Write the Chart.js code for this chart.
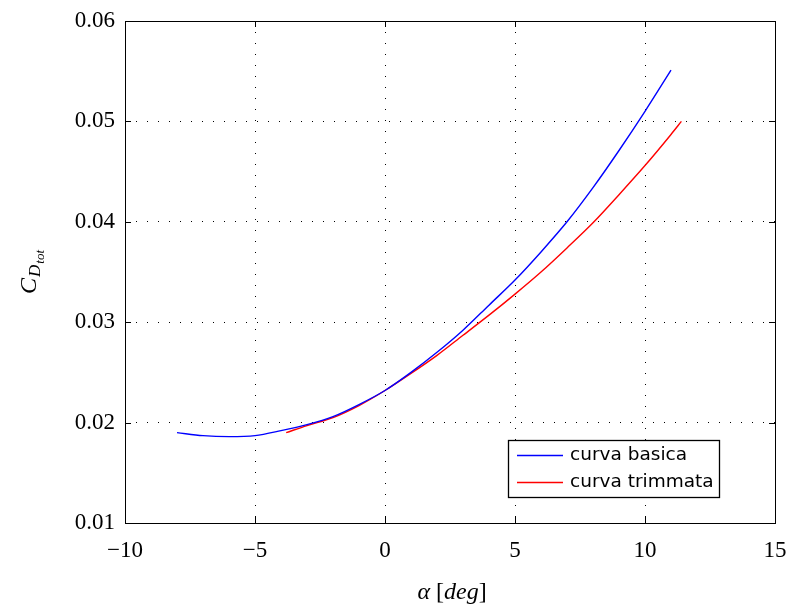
<!DOCTYPE html>
<html>
<head>
<meta charset="utf-8">
<script src="https://cdn.jsdelivr.net/npm/chart.js@4"></script>
<style>
  html, body { margin: 0; padding: 0; background: #fff; }
  #wrap { width: 788px; height: 605px; }
</style>
</head>
<body>
<div id="wrap"><canvas id="myChart" width="788" height="605"></canvas></div>
<script>
// angle of attack [deg] and drag coefficient
const alphaBasica = [-8, -7, -6, -5, -4, -3, -2, -1, 0, 1, 2, 3, 4, 5, 6, 7, 8, 9, 10, 11];
const cdBasica = [0.0190, 0.0187, 0.0186, 0.0187, 0.0192, 0.0198, 0.0206, 0.0218, 0.0232, 0.0250,
                  0.0270, 0.0292, 0.0317, 0.0342, 0.0370, 0.0400, 0.0434, 0.0471, 0.0510, 0.0551];

const alphaTrim = [-3.8, -3, -2, -1, 0, 1, 2, 3, 4, 5, 6, 7, 8, 9, 10, 11, 11.4];
const cdTrim = [0.0190, 0.0197, 0.0205, 0.0217, 0.0232, 0.0249, 0.0267, 0.0287, 0.0307, 0.0328,
                0.0350, 0.0374, 0.0399, 0.0427, 0.0456, 0.0487, 0.0500];

const seriesNames = ["curva basica", "curva trimmata"];
const xTicks = [-10, -5, 0, 5, 10, 15];
const yTicks = [0.01, 0.02, 0.03, 0.04, 0.05, 0.06];

const serif = "'Liberation Serif', 'DejaVu Serif', serif";

function toPoints(xs, ys) {
    return xs.map((x, i) => ({ x: x, y: ys[i] }));
}

// inward ticks on all four sides, like the original box
const innerTicks = {
    id: "innerTicks",
    afterDraw(chart) {
        const ctx = chart.ctx;
        const a = chart.chartArea;
        const xs = chart.scales.x, ys = chart.scales.y;
        const len = 6;
        ctx.save();
        ctx.strokeStyle = "#000";
        ctx.lineWidth = 1;
        ctx.beginPath();
        xTicks.forEach(v => {
            const px = Math.round(xs.getPixelForValue(v)) + 0.5;
            ctx.moveTo(px, a.bottom); ctx.lineTo(px, a.bottom - len);
            ctx.moveTo(px, a.top); ctx.lineTo(px, a.top + len);
        });
        yTicks.forEach(v => {
            const py = Math.round(ys.getPixelForValue(v)) + 0.5;
            ctx.moveTo(a.left, py); ctx.lineTo(a.left + len, py);
            ctx.moveTo(a.right, py); ctx.lineTo(a.right - len, py);
        });
        ctx.stroke();
        ctx.strokeRect(Math.round(a.left) + 0.5, Math.round(a.top) + 0.5,
                       Math.round(a.right - a.left), Math.round(a.bottom - a.top));
        ctx.restore();
    }
};

// axis titles with italic / subscript pieces
const axisTitles = {
    id: "axisTitles",
    afterDraw(chart) {
        const ctx = chart.ctx;
        ctx.save();
        ctx.fillStyle = "#000";
        ctx.textBaseline = "alphabetic";

        // x title: alpha [deg]
        const parts = [
            { t: "\u03b1", f: "italic 24px " + serif },
            { t: " [", f: "24px " + serif },
            { t: "deg", f: "italic 24px " + serif },
            { t: "]", f: "24px " + serif }
        ];
        let w = 0;
        parts.forEach(p => { ctx.font = p.f; w += ctx.measureText(p.t).width; });
        let x = 452 - w / 2;
        parts.forEach(p => { ctx.font = p.f; ctx.fillText(p.t, x, 599); x += ctx.measureText(p.t).width; });

        // y title: C_{D_tot}, rotated
        ctx.translate(36, 272);
        ctx.rotate(-Math.PI / 2);
        const yp = [
            { t: "C", f: "italic 24px " + serif, dy: 0, gap: 1 },
            { t: "D", f: "italic 17px " + serif, dy: 4, gap: 1 },
            { t: "tot", f: "italic 13px " + serif, dy: 8, gap: 0 }
        ];
        w = 0;
        yp.forEach(p => { ctx.font = p.f; w += ctx.measureText(p.t).width + p.gap; });
        x = -w / 2;
        yp.forEach(p => { ctx.font = p.f; ctx.fillText(p.t, x, p.dy); x += ctx.measureText(p.t).width + p.gap; });
        ctx.restore();
    }
};

// legend box in the lower right of the plot
const boxLegend = {
    id: "boxLegend",
    afterDraw(chart) {
        const ctx = chart.ctx;
        const left = 508, top = 440, width = 211, height = 57;
        ctx.save();
        ctx.fillStyle = "#fff";
        ctx.fillRect(left, top, width, height);
        ctx.strokeStyle = "#000";
        ctx.lineWidth = 1.3;
        ctx.strokeRect(left + 0.5, top + 0.5, width, height);
        ctx.font = "18.5px 'DejaVu Sans', sans-serif";
        ctx.textBaseline = "middle";
        chart.data.datasets.forEach((ds, i) => {
            const y = top + 15 + i * 27;
            ctx.strokeStyle = ds.borderColor;
            ctx.lineWidth = 1.3;
            ctx.beginPath();
            ctx.moveTo(517, y + 0.5);
            ctx.lineTo(563, y + 0.5);
            ctx.stroke();
            ctx.fillStyle = "#000";
            ctx.fillText(ds.label, 570, y);
        });
        ctx.restore();
    }
};

const config = {
    type: "scatter",
    data: {
        datasets: [
            {
                label: seriesNames[0],
                data: toPoints(alphaBasica, cdBasica),
                showLine: true,
                borderColor: "#0000ff",
                borderWidth: 1.4,
                pointRadius: 0,
                cubicInterpolationMode: "monotone"
            },
            {
                label: seriesNames[1],
                data: toPoints(alphaTrim, cdTrim),
                showLine: true,
                borderColor: "#ff0000",
                borderWidth: 1.4,
                pointRadius: 0,
                cubicInterpolationMode: "monotone"
            }
        ]
    },
    options: {
        responsive: false,
        animation: false,
        layout: { padding: { top: 21, right: 13, left: 0, bottom: 0 } },
        plugins: {
            legend: { display: false },
            tooltip: { enabled: false }
        },
        scales: {
            x: {
                type: "linear",
                min: -10,
                max: 15,
                afterBuildTicks: s => { s.ticks = xTicks.map(v => ({ value: v })); },
                afterFit: s => { s.height = 82; s.paddingLeft = 0; s.paddingRight = 0; },
                border: { display: false, dash: [1, 10] },
                grid: {
                    color: "#000",
                    lineWidth: 1,
                    drawTicks: false
                },
                ticks: {
                    color: "#000",
                    padding: 14,
                    font: { family: serif, size: 23 },
                    callback: v => (v < 0 ? "\u2212" + Math.abs(v) : String(v))
                }
            },
            y: {
                type: "linear",
                min: 0.01,
                max: 0.06,
                afterBuildTicks: s => { s.ticks = yTicks.map(v => ({ value: v })); },
                afterFit: s => { s.width = 125; s.paddingTop = 0; s.paddingBottom = 0; },
                border: { display: false, dash: [1, 10] },
                grid: {
                    color: "#000",
                    lineWidth: 1,
                    drawTicks: false
                },
                ticks: {
                    color: "#000",
                    padding: 10,
                    font: { family: serif, size: 23 },
                    callback: v => v.toFixed(2)
                }
            }
        }
    },
    plugins: [innerTicks, axisTitles, boxLegend]
};

const ctx = document.getElementById("myChart").getContext("2d");
const myChart = new Chart(ctx, config);
</script>
</body>
</html>
